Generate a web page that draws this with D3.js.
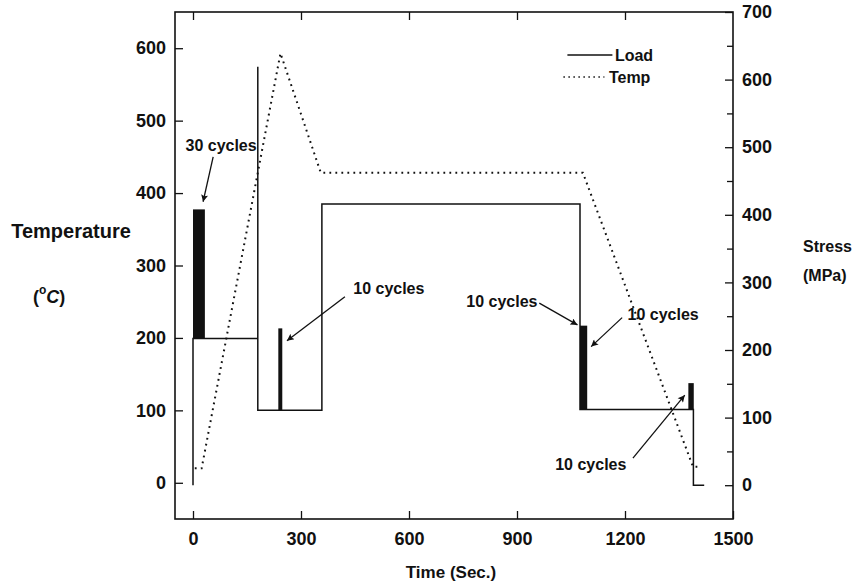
<!DOCTYPE html>
<html>
<head>
<meta charset="utf-8">
<script src="https://cdn.jsdelivr.net/npm/d3@7/dist/d3.min.js"></script>
<style>
  html, body { margin: 0; padding: 0; background: #fff; }
  svg { display: block; }
  text { font-family: "Liberation Sans", Arial, Helvetica, sans-serif; fill: #111; }
</style>
</head>
<body>
<svg id="chart" width="858" height="585"></svg>
<script>
// ---- data ----
const xTicks = [0, 300, 600, 900, 1200, 1500];
const tempTicks = [0, 100, 200, 300, 400, 500, 600];
const stressTicks = [0, 100, 200, 300, 400, 500, 600, 700];
const stressMinorTicks = [50, 150, 250, 350, 450, 550, 650];

// Load (stress, MPa) path
const loadTime   = [0, 0, 180, 180, 180, 358, 358, 1075, 1075, 1390, 1390, 1420];
const loadStress = [0, 217, 217, 619, 111, 111, 416, 416, 112, 112, 0, 0];

// Cyclic loading blocks
const cycleStart = [0, 237, 1075, 1376];
const cycleEnd   = [33, 248, 1095, 1391];
const cycleMin   = [217, 111, 112, 112];
const cycleMax   = [408, 232, 236, 151];

// Temperature (°C)
const tempTime  = [5, 24, 243, 355, 1083, 1389, 1402];
const tempValue = [20, 20, 593, 428, 428, 22, 22];

// Annotations (time, temperature-axis units)
const annText  = ["30 cycles", "10 cycles", "10 cycles", "10 cycles", "10 cycles"];
const annTx    = [78, 544, 858, 1306, 1105];
const annTy    = [466, 268, 250, 232, 25];
const annFromT = [56, 422, 962, 1192, 1222];
const annFromV = [450, 257, 248, 228, 34];
const annToT   = [28, 261, 1068, 1106, 1366];
const annToV   = [388, 196, 218, 188, 121];

// ---- layout ----
const svg = d3.select("#chart");
const x  = d3.scaleLinear().domain([-50, 1500]).range([175, 733]);
const yL = d3.scaleLinear().domain([-50, 650]).range([519, 12]);
const yR = d3.scaleLinear().domain([-50, 700]).range([519, 12]);

const FONT = "Liberation Sans, Arial, Helvetica, sans-serif";

// defs for arrowheads
svg.append("defs").append("marker")
  .attr("id", "arrow")
  .attr("viewBox", "0 0 10 10")
  .attr("refX", 10).attr("refY", 5)
  .attr("markerWidth", 10).attr("markerHeight", 7)
  .attr("markerUnits", "userSpaceOnUse")
  .attr("orient", "auto")
  .append("path").attr("d", "M0,0 L10,5 L0,10 L2,5 Z").attr("fill", "#111");

// Axes
const gB = svg.append("g").attr("transform", `translate(0,519)`)
  .call(d3.axisBottom(x).tickValues(xTicks).tickSizeInner(-8).tickSizeOuter(0).tickPadding(13).tickFormat(d3.format("d")));
const gT = svg.append("g").attr("transform", `translate(0,12)`)
  .call(d3.axisTop(x).tickValues(xTicks.slice(0, -1)).tickSizeInner(-8).tickSizeOuter(0).tickFormat(""));
const gL = svg.append("g").attr("transform", `translate(175,0)`)
  .call(d3.axisLeft(yL).tickValues(tempTicks).tickSizeInner(-8).tickSizeOuter(0).tickPadding(9).tickFormat(d3.format("d")));
const gR = svg.append("g").attr("transform", `translate(733,0)`)
  .call(d3.axisRight(yR).tickValues(stressTicks).tickSizeInner(-8).tickSizeOuter(0).tickPadding(9).tickFormat(d3.format("d")));
const gRm = svg.append("g").attr("transform", `translate(733,0)`)
  .call(d3.axisRight(yR).tickValues(stressMinorTicks).tickSizeInner(-6).tickSizeOuter(0).tickFormat(""));

[gB, gT, gL, gR, gRm].forEach(g => {
  g.select(".domain").remove();
  g.selectAll("line").attr("stroke", "#111").attr("stroke-width", 1.3);
  g.selectAll("text").attr("font-family", FONT).attr("font-size", 18).attr("font-weight", "bold").attr("fill", "#111");
});

// frame
svg.append("rect")
  .attr("x", x(-50)).attr("y", yL(650))
  .attr("width", x(1500) - x(-50)).attr("height", yL(-50) - yL(650))
  .attr("fill", "none").attr("stroke", "#111").attr("stroke-width", 1.6);

// Cyclic blocks
svg.append("g").selectAll("rect").data(cycleStart).join("rect")
  .attr("x", (d, i) => x(cycleStart[i]))
  .attr("width", (d, i) => x(cycleEnd[i]) - x(cycleStart[i]))
  .attr("y", (d, i) => yR(cycleMax[i]))
  .attr("height", (d, i) => yR(cycleMin[i]) - yR(cycleMax[i]))
  .attr("fill", "#111");

// Load line
const loadPts = loadTime.map((t, i) => [t, loadStress[i]]);
svg.append("path")
  .attr("d", d3.line().x(d => x(d[0])).y(d => yR(d[1]))(loadPts))
  .attr("fill", "none").attr("stroke", "#111").attr("stroke-width", 1.5);

// Temperature dotted line
const tempPts = tempTime.map((t, i) => [t, tempValue[i]]);
svg.append("path")
  .attr("d", d3.line().x(d => x(d[0])).y(d => yL(d[1]))(tempPts))
  .attr("fill", "none").attr("stroke", "#111").attr("stroke-width", 2)
  .attr("stroke-dasharray", "1.8,4.2");

// Legend
const legX1 = x(1040), legX2 = x(1165), legT = x(1172);
svg.append("line").attr("x1", legX1).attr("x2", legX2).attr("y1", 55).attr("y2", 55)
  .attr("stroke", "#111").attr("stroke-width", 1.3);
svg.append("text").attr("x", legT).attr("y", 55).attr("dy", "0.35em")
  .attr("font-size", 16).attr("font-weight", "bold").text("Load");
svg.append("line").attr("x1", legX1 - 4).attr("x2", legX2 - 8).attr("y1", 77).attr("y2", 77)
  .attr("stroke", "#111").attr("stroke-width", 1.6).attr("stroke-dasharray", "1.5,3.5");
svg.append("text").attr("x", legT - 6).attr("y", 77).attr("dy", "0.35em")
  .attr("font-size", 16).attr("font-weight", "bold").text("Temp");

// Annotations
annText.forEach((s, i) => {
  svg.append("text").attr("x", x(annTx[i])).attr("y", yL(annTy[i])).attr("dy", "0.35em")
    .attr("text-anchor", "middle").attr("font-size", 16).attr("font-weight", "bold").text(s);
  svg.append("line")
    .attr("x1", x(annFromT[i])).attr("y1", yL(annFromV[i]))
    .attr("x2", x(annToT[i])).attr("y2", yL(annToV[i]))
    .attr("stroke", "#111").attr("stroke-width", 1.3)
    .attr("marker-end", "url(#arrow)");
});

// Axis titles
svg.append("text").attr("x", 71).attr("y", 231).attr("dy", "0.35em").attr("text-anchor", "middle")
  .attr("font-size", 20).attr("font-weight", "bold").text("Temperature");
const unitT = svg.append("text").attr("x", 33).attr("y", 297).attr("dy", "0.35em")
  .attr("font-size", 18).attr("font-weight", "bold");
unitT.append("tspan").text("(");
unitT.append("tspan").attr("font-size", 12).attr("dy", "-0.75em").text("o");
unitT.append("tspan").attr("dy", "0.5em").attr("font-style", "italic").text("C");
unitT.append("tspan").text(")");

svg.append("text").attr("x", 803).attr("y", 246).attr("dy", "0.35em")
  .attr("font-size", 16).attr("font-weight", "bold").text("Stress");
svg.append("text").attr("x", 803).attr("y", 275).attr("dy", "0.35em")
  .attr("font-size", 16).attr("font-weight", "bold").text("(MPa)");

svg.append("text").attr("x", 451).attr("y", 572).attr("dy", "0.35em").attr("text-anchor", "middle")
  .attr("font-size", 17).attr("font-weight", "bold").text("Time (Sec.)");
</script>
</body>
</html>
